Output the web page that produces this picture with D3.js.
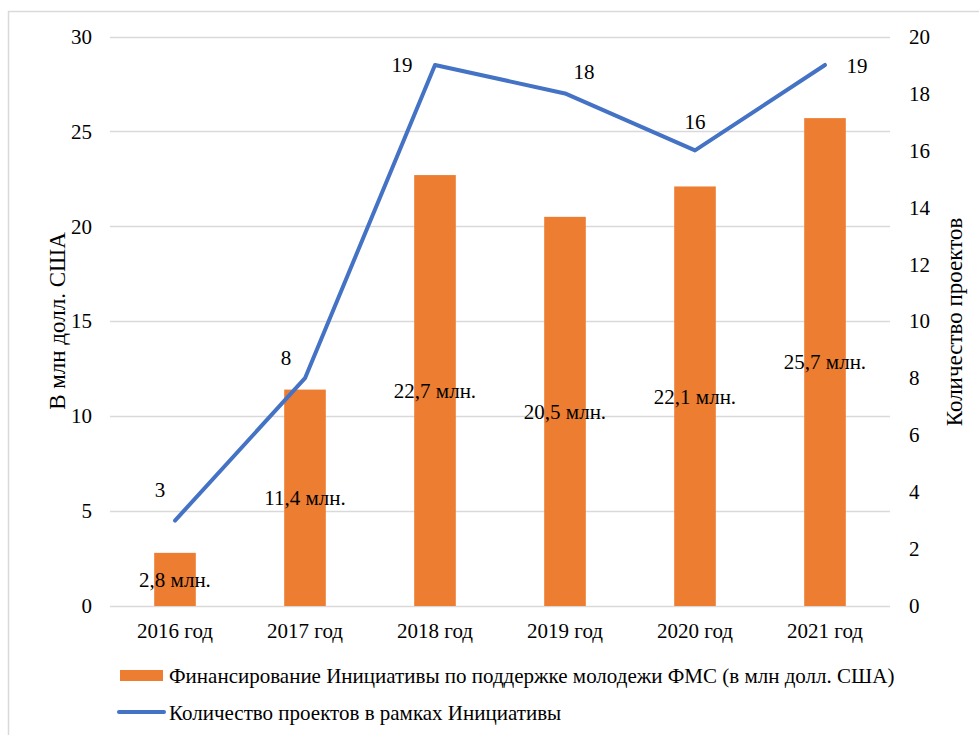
<!DOCTYPE html>
<html>
<head>
<meta charset="utf-8">
<script src="https://d3js.org/d3.v7.min.js"></script>
<style>
  body { margin: 0; background: #fff; }
</style>
</head>
<body>
<div id="chart"></div>
<script>
// data
var years = ['2016 год', '2017 год', '2018 год', '2019 год', '2020 год', '2021 год'];
var funding = [2.8, 11.4, 22.7, 20.5, 22.1, 25.7];
var fundingLabels = ['2,8 млн.', '11,4 млн.', '22,7 млн.', '20,5 млн.', '22,1 млн.', '25,7 млн.'];
var projects = [3, 8, 19, 18, 16, 19];
var leftTicks = [0, 5, 10, 15, 20, 25, 30];
var rightTicks = [0, 2, 4, 6, 8, 10, 12, 14, 16, 18, 20];

var seriesNames = [
    'Финансирование Инициативы по поддержке молодежи ФМС (в млн долл. США)',
    'Количество проектов в рамках Инициативы'
];

// where each line label sits relative to its point (Excel-style placement)
var lineLabelOffset = [[-15, -31], [-19, -21], [-33, 0], [19, -22], [0, -29], [32, 1]];

var width = 979, height = 735;
var margin = {left: 110, right: 89, top: 36.5, bottom: 129};
var fontSize = 21;
var titleSize = 23;
var serif = '"Liberation Serif", "Times New Roman", Times, serif';

var svg = d3.select('#chart').append('svg')
    .attr('width', width)
    .attr('height', height)
    .style('font-family', serif);

// outer frame
svg.append('rect')
    .attr('x', 8.5)
    .attr('y', 11.5)
    .attr('width', 1000)
    .attr('height', 1000)
    .attr('fill', 'none')
    .attr('stroke', '#d9d9d9')
    .attr('stroke-width', 1.5);

var x = d3.scaleBand()
    .domain(years)
    .range([margin.left, width - margin.right])
    .paddingInner(0.68)
    .paddingOuter(0.34);

var yL = d3.scaleLinear().domain([0, 30]).range([height - margin.bottom, margin.top]);
var yR = d3.scaleLinear().domain([0, 20]).range([height - margin.bottom, margin.top]);

// gridlines
svg.append('g')
    .selectAll('line')
    .data(leftTicks)
    .join('line')
    .attr('x1', margin.left)
    .attr('x2', width - margin.right)
    .attr('y1', function(d) { return Math.round(yL(d)) + 0.5; })
    .attr('y2', function(d) { return Math.round(yL(d)) + 0.5; })
    .attr('stroke', '#d9d9d9')
    .attr('stroke-width', 1.5);

function styleAxis(g) {
    g.attr('font-family', null).attr('font-size', null);
    g.select('.domain').remove();
    g.selectAll('text')
        .style('font-family', serif)
        .style('font-size', fontSize + 'px')
        .attr('fill', '#000');
}

// left axis
svg.append('g')
    .attr('transform', 'translate(' + margin.left + ',0)')
    .call(d3.axisLeft(yL).tickValues(leftTicks).tickSize(0).tickPadding(18))
    .call(styleAxis);

// right axis
svg.append('g')
    .attr('transform', 'translate(' + (width - margin.right) + ',0)')
    .call(d3.axisRight(yR).tickValues(rightTicks).tickSize(0).tickPadding(19))
    .call(styleAxis);

// bottom axis
svg.append('g')
    .attr('transform', 'translate(0,' + (height - margin.bottom) + ')')
    .call(d3.axisBottom(x).tickSize(0).tickPadding(17))
    .call(styleAxis);

// axis titles
svg.append('text')
    .attr('transform', 'translate(65,321) rotate(-90)')
    .attr('text-anchor', 'middle')
    .style('font-family', serif)
    .style('font-size', titleSize + 'px')
    .text('В млн долл. США');

svg.append('text')
    .attr('transform', 'translate(962,322) rotate(-90)')
    .attr('text-anchor', 'middle')
    .style('font-family', serif)
    .style('font-size', titleSize + 'px')
    .text('Количество проектов');

// bars
svg.append('g')
    .selectAll('rect')
    .data(funding)
    .join('rect')
    .attr('x', function(d, i) { return x(years[i]); })
    .attr('y', function(d) { return yL(d); })
    .attr('width', x.bandwidth())
    .attr('height', function(d) { return yL(0) - yL(d); })
    .attr('fill', '#ed7d31');

// bar labels, centred in the bar
svg.append('g')
    .selectAll('text')
    .data(funding)
    .join('text')
    .attr('x', function(d, i) { return x(years[i]) + x.bandwidth() / 2; })
    .attr('y', function(d) { return (yL(d) + yL(0)) / 2; })
    .attr('dy', '0.35em')
    .attr('text-anchor', 'middle')
    .style('font-family', serif)
    .style('font-size', fontSize + 'px')
    .text(function(d, i) { return fundingLabels[i]; });

// line
var line = d3.line()
    .x(function(d, i) { return x(years[i]) + x.bandwidth() / 2; })
    .y(function(d) { return yR(d); });

svg.append('path')
    .datum(projects)
    .attr('d', line)
    .attr('fill', 'none')
    .attr('stroke', '#4472c4')
    .attr('stroke-width', 4)
    .attr('stroke-linecap', 'round')
    .attr('stroke-linejoin', 'round');

svg.append('g')
    .selectAll('text')
    .data(projects)
    .join('text')
    .attr('x', function(d, i) { return x(years[i]) + x.bandwidth() / 2 + lineLabelOffset[i][0]; })
    .attr('y', function(d, i) { return yR(d) + lineLabelOffset[i][1]; })
    .attr('dy', '0.35em')
    .attr('text-anchor', 'middle')
    .style('font-family', serif)
    .style('font-size', fontSize + 'px')
    .text(function(d) { return d; });

// legend
var leg = svg.append('g');
leg.append('rect')
    .attr('x', 120)
    .attr('y', 670)
    .attr('width', 43)
    .attr('height', 11)
    .attr('fill', '#ed7d31');
leg.append('text')
    .attr('x', 169)
    .attr('y', 683)
    .style('font-family', serif)
    .style('font-size', fontSize + 'px')
    .text(seriesNames[0]);
leg.append('line')
    .attr('x1', 119)
    .attr('x2', 164)
    .attr('y1', 712)
    .attr('y2', 712)
    .attr('stroke', '#4472c4')
    .attr('stroke-width', 4)
    .attr('stroke-linecap', 'round');
leg.append('text')
    .attr('x', 169)
    .attr('y', 720)
    .style('font-family', serif)
    .style('font-size', fontSize + 'px')
    .text(seriesNames[1]);
</script>
</body>
</html>
